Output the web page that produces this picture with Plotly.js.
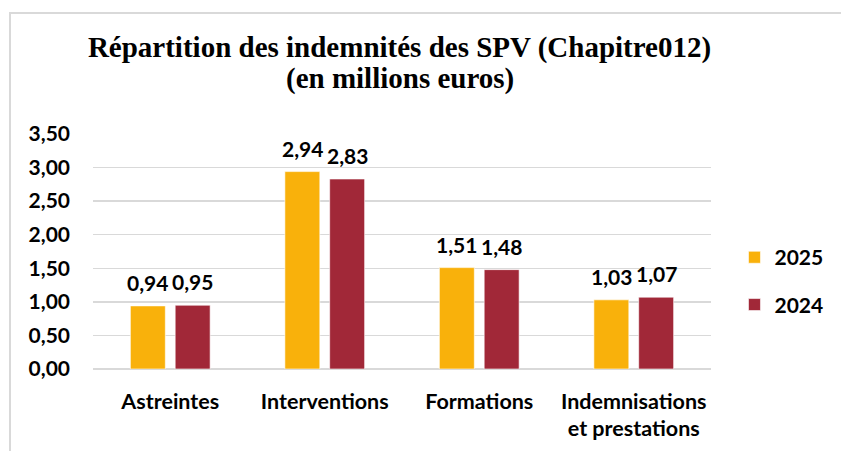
<!DOCTYPE html>
<html>
<head>
<meta charset="utf-8">
<script src="https://cdn.plot.ly/plotly-3.0.1.min.js"></script>
<style>
  html, body { margin: 0; padding: 0; overflow: hidden; background: #fff; }
  #wrap { position: relative; width: 841px; height: 451px; }
  #chart { width: 841px; height: 451px; }
  #frame { position: absolute; left: 9px; top: 12px; width: 900px; height: 500px;
           border: 2px solid #d9d9d9; pointer-events: none; box-sizing: border-box; }
</style>
</head>
<body>
<div id="wrap">
  <div id="chart"></div>
  <div id="frame"></div>
</div>
<script>
const categories = ["Astreintes", "Interventions", "Formations", "Indemnisations<br>et prestations"];
const seriesNames = ["2025", "2024"];
const values2025 = [0.94, 2.94, 1.51, 1.03];
const values2024 = [0.95, 2.83, 1.48, 1.07];
const yTicks = [0, 0.5, 1, 1.5, 2, 2.5, 3, 3.5];
const titleLine1 = "Répartition des indemnités des SPV (Chapitre012)";
const titleLine2 = "(en millions euros)";

const colors = ["#F9B10B", "#A12838"];
const sans = "Lato, 'Open Sans', sans-serif";
const labelFont = { family: sans, size: 21, color: "#000" };
const titleFont = { family: "'Liberation Serif', 'Times New Roman', serif", size: 29, color: "#000" };
const fmt = v => v.toFixed(2).replace(".", ",");

const traces = [values2025, values2024].map((vals, i) => ({
  type: "bar",
  name: "<b>" + seriesNames[i] + "</b>",
  legendgroup: "g" + i,
  x: categories,
  y: vals,
  marker: { color: colors[i], line: { color: "rgba(255,255,255,0.6)", width: 1 } },
  hoverinfo: "skip"
}));

const annotations = [];
[values2025, values2024].forEach((vals, i) => {
  vals.forEach((v, j) => {
    annotations.push({
      x: categories[j], y: v, xref: "x", yref: "y",
      text: "<b>" + fmt(v) + "</b>",
      showarrow: false,
      xshift: i === 0 ? -22.5 : 22.5,
      yanchor: "bottom",
      yshift: 9,
      font: labelFont
    });
  });
});
annotations.push({
  xref: "paper", yref: "paper",
  x: 0.496, xanchor: "center",
  y: 1.238, yanchor: "middle",
  text: "<b>" + titleLine2 + "</b>",
  showarrow: false,
  font: titleFont
});

const layout = {
  width: 841, height: 451,
  margin: { l: 93, r: 123, t: 134, b: 82 },
  paper_bgcolor: "#fff",
  plot_bgcolor: "#fff",
  separators: ", ",
  title: {
    text: "<b>" + titleLine1 + "</b>",
    font: titleFont,
    xref: "paper",
    x: 0.496, xanchor: "center",
    yref: "container",
    y: 0.896, yanchor: "middle"
  },
  barmode: "group",
  bargap: 0.42,
  bargroupgap: 0.22,
  xaxis: {
    type: "category",
    tickvals: categories,
    ticktext: categories.map(c => "<b>" + c.replace("<br>", "</b><br><b>") + "</b>"),
    tickfont: { family: sans, size: 21.5, color: "#000" },
    showgrid: false,
    showline: false,
    ticks: "",
    ticklabelstandoff: 17,
    automargin: false
  },
  yaxis: {
    range: [0, 3.5],
    tickvals: yTicks,
    ticktext: yTicks.map(v => "<b>" + fmt(v) + "</b>"),
    tickfont: { family: sans, size: 21, color: "#000" },
    showgrid: true,
    gridcolor: "#d9d9d9",
    gridwidth: 1.5,
    zeroline: true,
    zerolinecolor: "#d9d9d9",
    zerolinewidth: 1.5,
    showline: false,
    ticks: "",
    ticklabelstandoff: 22,
    automargin: false
  },
  legend: {
    x: 1.038, xanchor: "left",
    y: 0.374, yanchor: "middle",
    font: { family: sans, size: 21, color: "#000" },
    tracegroupgap: 17,
    itemwidth: 30
  },
  showlegend: true,
  annotations: annotations
};

Plotly.newPlot("chart", traces, layout, { displayModeBar: false, staticPlot: true });
</script>
</body>
</html>
